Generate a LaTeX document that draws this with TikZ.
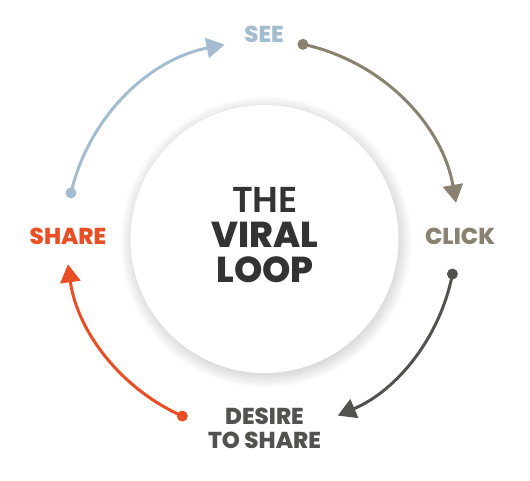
\documentclass[tikz,border=0pt]{standalone}
\usepackage{fontspec}
\setmainfont{Poppins}
\newfontfamily\popsemi{Poppins SemiBold}
\newfontfamily\popxb{Poppins ExtraBold}
\usetikzlibrary{arrows.meta,calc}
\definecolor{seeblue}{HTML}{A4BCCF}
\definecolor{clickbrown}{HTML}{8A8271}
\definecolor{desiregray}{HTML}{52524E}
\definecolor{sharered}{HTML}{E94E24}
\definecolor{titlegray}{HTML}{333333}
\tikzset{
  looparc/.style={line width=3pt, -{Triangle[length=18pt,width=20pt]}},
  dotnode/.style={circle, fill, inner sep=0pt, minimum size=11pt},
  steplabel/.style={font=\popxb\fontsize{23}{24}\selectfont, anchor=base, align=center, inner sep=0pt},
}
\begin{document}
\begin{tikzpicture}[x=1pt,y=1pt]
\useasboundingbox (0,0) rectangle (530,480);
\fill[white] (0,0) rectangle (530,480);
% shadow
\foreach \i in {0,...,16}{
  \fill[black, opacity=0.009] (266,238) circle ({133+\i*0.8});
}
\node[circle, fill=white, minimum size=268pt, inner sep=0pt] (hub) at (264.5,241) {};
\node[font=\popsemi\fontsize{36}{36}\selectfont, text=titlegray, anchor=base, inner sep=0pt] (the) at (265,268) {THE};
\node[font=\popxb\fontsize{36}{36}\selectfont, text=titlegray, anchor=base, inner sep=0pt] (viral) at (265,233) {VIRAL};
\node[font=\popxb\fontsize{36}{36}\selectfont, text=titlegray, anchor=base, inner sep=0pt] (loop) at (265,198) {LOOP};
% labels
\node[steplabel, text=seeblue] (see) at (264,437.5) {SEE};
\node[steplabel, text=clickbrown] (click) at (460,236) {CLICK};
\node[steplabel, text=sharered] (share) at (68,236) {SHARE};
\node[steplabel, text=desiregray] (desire) at (264.5,56) {DESIRE};
\node[steplabel, text=desiregray] (toshare) at (264.5,32) {TO SHARE};
% arcs
\coordinate (C) at (262,243);
\node[dotnode, fill=seeblue] (d1) at ($(C)+(167:196)$) {};
\node[dotnode, fill=clickbrown] (d2) at ($(C)+(78:197)$) {};
\node[dotnode, fill=desiregray] (d3) at ($(C)+(-11:194)$) {};
\node[dotnode, fill=sharered] (d4) at ($(C)+(-114:196)$) {};
\draw[looparc, seeblue] (d1.center) arc[start angle=167, end angle=101, radius=196];
\draw[looparc, clickbrown] (d2.center) arc[start angle=78, end angle=10, radius=197];
\draw[looparc, desiregray] (d3.center) arc[start angle=-11, end angle=-67, radius=194];
\draw[looparc, sharered] (d4.center) arc[start angle=-114, end angle=-172, radius=196];
\end{tikzpicture}
\end{document}
